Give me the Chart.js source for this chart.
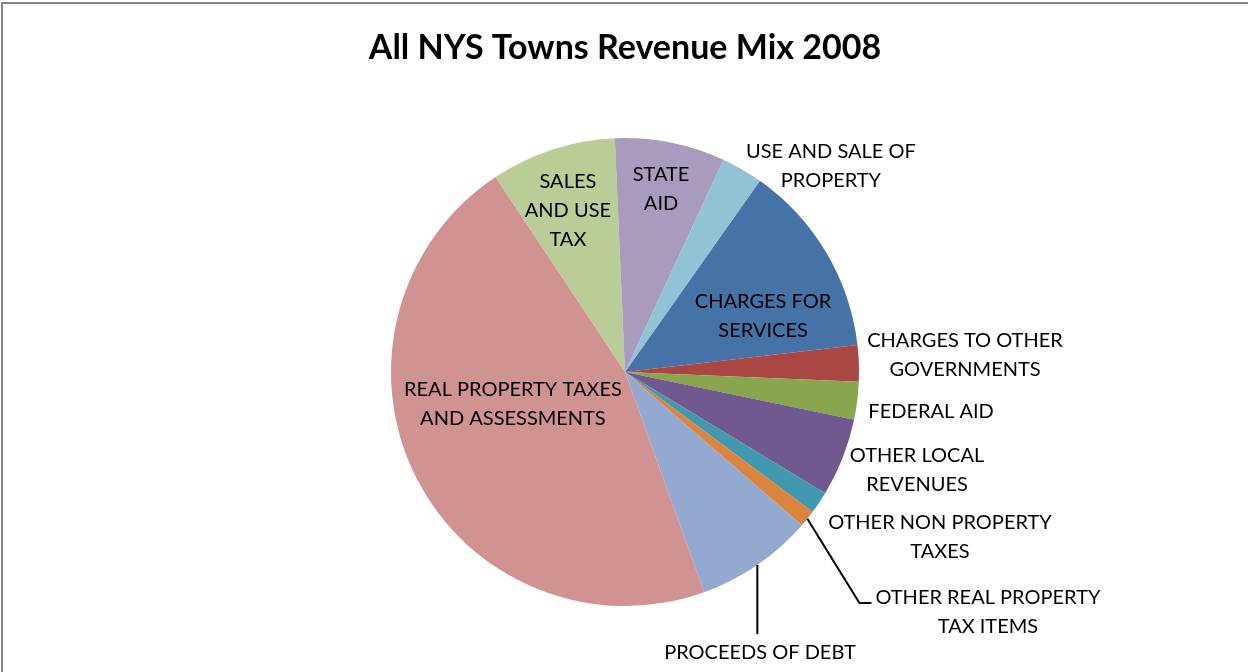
<!DOCTYPE html>
<html>
<head>
<meta charset="utf-8">
<script src="https://cdn.jsdelivr.net/npm/chart.js@4.4.1/dist/chart.umd.min.js"></script>
<style>
  html, body { margin: 0; padding: 0; background: #ffffff; }
  #wrap { width: 1248px; height: 672px; position: relative; }
  canvas { display: block; }
</style>
</head>
<body>
<div id="wrap"><canvas id="c" width="1248" height="672"></canvas></div>
<script>
// ---- data ----
const chartTitle = "All NYS Towns Revenue Mix 2008";
const categories = [
  "CHARGES FOR SERVICES",
  "CHARGES TO OTHER GOVERNMENTS",
  "FEDERAL AID",
  "OTHER LOCAL REVENUES",
  "OTHER NON PROPERTY TAXES",
  "OTHER REAL PROPERTY TAX ITEMS",
  "PROCEEDS OF DEBT",
  "REAL PROPERTY TAXES AND ASSESSMENTS",
  "SALES AND USE TAX",
  "STATE AID",
  "USE AND SALE OF PROPERTY"
];
// share of total revenue (%)
const shares = [13.39, 2.50, 2.61, 5.39, 1.53, 1.17, 8.14, 46.17, 8.64, 7.61, 2.86];
// wrapped label text as shown
const labelLines = [
  ["CHARGES FOR", "SERVICES"],
  ["CHARGES TO OTHER", "GOVERNMENTS"],
  ["FEDERAL AID"],
  ["OTHER LOCAL", "REVENUES"],
  ["OTHER NON PROPERTY", "TAXES"],
  ["OTHER REAL PROPERTY", "TAX ITEMS"],
  ["PROCEEDS OF DEBT"],
  ["REAL PROPERTY TAXES", "AND ASSESSMENTS"],
  ["SALES", "AND USE", "TAX"],
  ["STATE", "AID"],
  ["USE AND SALE OF", "PROPERTY"]
];

// ---- styling / layout ----
const sliceColors = ["#4572A7", "#AA4643", "#89A54E", "#71588F", "#4198AF", "#DB843D",
                     "#93A9CF", "#D19392", "#B9CD96", "#A99BBD", "#92C3D4"];
// label block centre relative to pie centre, in units of the pie radius
const labelPos = [[0.590, -0.241], [1.453, -0.071], [1.308, 0.167], [1.248, 0.417], [1.346, 0.705],
                  [1.551, 1.024], [0.577, 1.197], [-0.479, 0.135], [-0.244, -0.688], [0.154, -0.780],
                  [0.880, -0.880]];
const leaderType = [null, null, null, null, null, "elbow", "vertical", null, null, null, null];
const LABEL_FONT = "20px Lato, 'Open Sans', sans-serif";
const LINE_H = 29;

const labelPlugin = {
  id: "sliceLabels",
  beforeDraw(chart) {
    const ctx = chart.ctx;
    ctx.save();
    ctx.fillStyle = "#ffffff";
    ctx.fillRect(0, 0, chart.width, chart.height);
    ctx.strokeStyle = "#868686";
    ctx.lineWidth = 2;
    ctx.strokeRect(2, 3, chart.width + 20, chart.height + 20);
    // title
    ctx.fillStyle = "#000000";
    ctx.font = "bold 34px Lato, 'Open Sans', sans-serif";
    ctx.textAlign = "center";
    ctx.textBaseline = "alphabetic";
    const meta = chart.getDatasetMeta(0);
    const cx = meta.data[0].x;
    ctx.fillText(chartTitle, cx, 59);
    ctx.restore();
  },
  afterDatasetsDraw(chart) {
    const ctx = chart.ctx;
    const meta = chart.getDatasetMeta(0);
    ctx.save();
    ctx.font = LABEL_FONT;
    ctx.fillStyle = "#000000";
    ctx.textAlign = "center";
    ctx.textBaseline = "middle";
    meta.data.forEach((arc, i) => {
      const R = arc.outerRadius;
      const lx = arc.x + labelPos[i][0] * R;
      const ly = arc.y + labelPos[i][1] * R;
      const lines = labelLines[i];
      const top = ly - (lines.length - 1) * LINE_H / 2;
      let maxW = 0;
      lines.forEach((t, k) => {
        ctx.fillText(t, lx, top + k * LINE_H);
        maxW = Math.max(maxW, ctx.measureText(t).width);
      });
      const mid = (arc.startAngle + arc.endAngle) / 2;
      const sx = arc.x + Math.cos(mid) * R;
      const sy = arc.y + Math.sin(mid) * R;
      if (leaderType[i]) {
        ctx.save();
        ctx.strokeStyle = "#000000";
        ctx.lineWidth = 2;
        ctx.beginPath();
        if (leaderType[i] === "vertical") {
          ctx.moveTo(sx, sy);
          ctx.lineTo(sx, ly - 18);
        } else {
          const left = lx - maxW / 2;
          const yy = ly - 8.5;
          ctx.moveTo(sx, sy);
          ctx.lineTo(left - 16, yy);
          ctx.lineTo(left - 4, yy);
        }
        ctx.stroke();
        ctx.restore();
      }
    });
    ctx.restore();
  }
};

new Chart(document.getElementById("c"), {
  type: "pie",
  data: {
    labels: categories,
    datasets: [{
      data: shares,
      backgroundColor: sliceColors,
      borderWidth: 0,
      hoverOffset: 0
    }]
  },
  options: {
    responsive: false,
    animation: false,
    rotation: 35.2,
    radius: 234,
    layout: { padding: { top: 138, bottom: 66, left: 300, right: 298 } },
    plugins: {
      legend: { display: false },
      title: { display: false },
      tooltip: { enabled: false }
    }
  },
  plugins: [labelPlugin]
});
</script>
</body>
</html>
